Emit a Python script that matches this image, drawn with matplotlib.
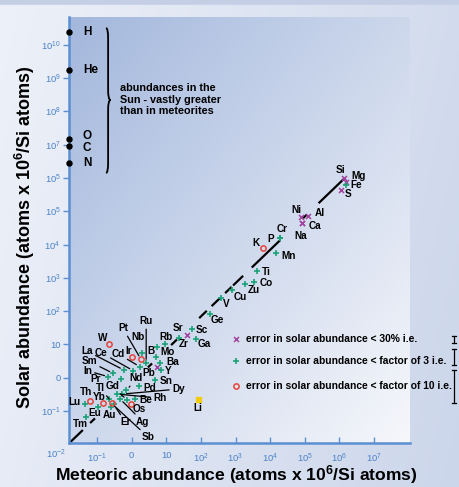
import numpy as np
import matplotlib.pyplot as plt
from matplotlib.path import Path
from matplotlib.patches import PathPatch

plt.rcParams['font.family'] = ['Liberation Sans', 'DejaVu Sans']
plt.rcParams['mathtext.default'] = 'regular'

# log10 abundances (atoms per 10^6 Si atoms)
elements = ['Si', 'Mg', 'Fe', 'S', 'Ni', 'Al', 'Ca', 'Na', 'Cr', 'P', 'K', 'Mn',
            'Ti', 'Co', 'Zu', 'Cu', 'V', 'Ge', 'Sc', 'Sr', 'Ga', 'Zr', 'Rb', 'Mo',
            'B', 'Ba', 'Y', 'Pb', 'Sn', 'Ru', 'Pt', 'Nb', 'W', 'Ir', 'Cd', 'Ce',
            'La', 'Sm', 'In', 'Pr', 'Nd', 'Gd', 'Pd', 'Dy', 'Rh', 'Be', 'Os', 'Ag',
            'Sb', 'Er', 'Au', 'Tl', 'Eu', 'Yb', 'Lu', 'Th', 'Tm', 'Li']
meteoric = [6.14, 6.20, 6.20, 6.05, 4.89, 5.09, 4.92, 4.92, 4.28, 4.28, 3.78, 4.18,
            3.62, 3.54, 3.27, 2.91, 2.58, 2.25, 1.75, 1.60, 1.87, 1.36, 0.96, 0.74,
            0.70, 0.83, 0.84, 0.72, 0.68, 0.42, 0.27, 0.29, -0.65, 0.02, 0.24, 0.05,
            -0.22, -0.53, -0.67, -0.31, -0.15, -0.13, 0.21, -0.27, -0.43, 0.10, -0.01, -0.34,
            -0.58, -0.52, -0.60, -0.65, -0.98, -0.83, -1.35, -1.21, -1.32, 1.92]
solar = [6.00, 5.88, 5.79, 5.64, 4.84, 4.86, 4.65, 4.65, 4.20, 4.20, 3.89, 3.75,
         3.20, 2.88, 2.81, 2.63, 2.39, 1.91, 1.47, 1.27, 1.17, 1.20, 1.01, 0.91,
         0.63, 0.43, 0.23, 0.31, -0.07, 0.43, 0.55, 0.73, 1.00, 0.61, 0.33, 0.21,
         0.23, 0.13, 0.03, -0.05, -0.38, -0.67, -0.25, -0.49, -0.49, -0.63, -0.78, -0.63,
         -0.77, -0.80, -0.88, -0.64, -0.88, -0.77, -0.79, -0.69, -1.18, -0.65]
# x: <30 %, +: <factor 3, o: <factor 10, s: Li
error_class = ['x', 'x', '+', 'x', 'x', 'x', 'x', 'x', '+', '+', 'o', '+',
               '+', '+', '+', '+', '+', '+', '+', 'x', '+', '+', '+', '+',
               '+', '+', '+', 'x', '+', '+', 'o', '+', 'o', 'o', '+', '+',
               '+', '+', '+', '+', '+', '+', '+', '+', '+', '+', 'o', '+',
               'o', '+', '+', '+', '+', 'o', '+', 'o', '+', 's']

# elements far more abundant in the Sun (no meteoric value)
gas_elements = ['H', 'He', 'O', 'C', 'N']
gas_solar = [10.38, 9.24, 7.17, 6.96, 6.45]

x_ticks = [-1, 0, 1, 2, 3, 4, 5, 6, 7]
x_ticklabels = ['$10^{-1}$', '0', '10', '$10^{2}$', '$10^{3}$', '$10^{4}$',
                '$10^{5}$', '$10^{6}$', '$10^{7}$']
y_ticks = [-1, 0, 1, 2, 3, 4, 5, 6, 7, 8, 9, 10]
y_ticklabels = ['$10^{-1}$', '0', '10', '$10^{2}$', '$10^{3}$', '$10^{4}$',
                '$10^{5}$', '$10^{5}$', '$10^{7}$', '$10^{8}$', '$10^{9}$', '$10^{10}$']

legend_texts = ['error in solar abundance < 30% i.e.',
                'error in solar abundance < factor of 3 i.e.',
                'error in solar abundance < factor of 10 i.e.']

# label placement (pixel offsets from the point) and leader lines
label_off = {
    'Si': (-4, 8), 'Mg': (12, 6), 'Fe': (10, 0), 'S': (7, -4), 'Ni': (-5, 7),
    'Al': (12, 3), 'Ca': (13, -3), 'Na': (-1, -13), 'Cr': (2, 9), 'P': (-9, -1),
    'K': (-7, 5), 'Mn': (12, -3), 'Ti': (9, -1), 'Co': (12, -1), 'Zu': (9, -6),
    'Cu': (8, -7), 'V': (5, -6), 'Ge': (8, -6), 'Sc': (10, -1), 'Sr': (-9, 7),
    'Ga': (8, -5), 'Zr': (5, -6), 'Rb': (1, 7), 'Mo': (10, -5), 'B': (-5, 6),
    'Ba': (12, 1), 'Y': (7, -1), 'Pb': (-8, -6), 'Sn': (11, -1), 'Ru': (0, 42),
    'Pt': (-18, 31), 'Nb': (-4, 16), 'W': (-6, 6), 'Ir': (-4, 6), 'Cd': (-22, 13),
    'Ce': (-32, 18), 'La': (-37, 19), 'Sm': (-24, 12), 'In': (-21, 6), 'Pr': (-25, 0),
    'Nd': (10, 12), 'Gd': (-15, 14), 'Pd': (11, -2), 'Dy': (56, 5), 'Rh': (43, -4),
    'Be': (11, -1), 'Os': (8, -5), 'Ag': (23, -23), 'Sb': (37, -34), 'Er': (12, -18),
    'Au': (-1, -8), 'Tl': (-9, 11), 'Eu': (-3, -6), 'Yb': (-4, 6), 'Lu': (-10, 2),
    'Th': (-4, 9), 'Tm': (-6, -7), 'Li': (0, -9),
}
leaders = ['Ru', 'Pt', 'Cd', 'Ce', 'La', 'Sm', 'In', 'Nd', 'Gd', 'Dy', 'Rh',
           'Ag', 'Sb', 'Er', 'Tl']
gas_label_dy = {'H': 0, 'He': 0, 'O': 3, 'C': -2, 'N': 0}

# visible pieces of the equal-abundance line (gaps where labels sit)
line_start = [-1.81, -1.20, 0.47, 1.14, 1.95, 2.31, 2.70, 2.93, 3.47, 4.95, 5.40]
line_end = [-1.41, -1.06, 0.59, 1.31, 2.17, 2.55, 2.89, 3.22, 4.29, 5.06, 6.12]
line_offset = -0.16

styles = {
    'x': dict(marker='x', color='#a0449f', ms=3.6, mew=1.1, ls='none'),
    '+': dict(marker='+', color='#19a277', ms=4.8, mew=1.2, ls='none'),
    'o': dict(marker='o', mfc='none', mec='#e6433a', ms=3.8, mew=1.1, ls='none'),
    's': dict(marker='s', color='#f3cc10', ms=3.6, ls='none'),
}
spine_col = '#5b8fd2'
tick_col = '#4b82c6'

fig = plt.figure(figsize=(4.59, 4.87), dpi=100)

# figure background gradient
bg = fig.add_axes([0, 0, 1, 1], zorder=-10)
bg.axis('off')
u = np.linspace(0, 1, 300)[None, :]
v = np.linspace(0, 1, 300)[:, None]
c0 = np.array([0.93, 0.945, 0.975])
c1 = np.array([0.80, 0.84, 0.92])
t = np.clip(0.8 * u + 0.2 * v, 0, 1)[..., None]
img = c0 * (1 - t) + c1 * t
img[:3] = [0.77, 0.815, 0.905]
bg.imshow(img, aspect='auto', extent=[0, 1, 0, 1])
bg.set_xlim(0, 1)
bg.set_ylim(0, 1)

ax = fig.add_axes([0.1503, 0.0903, 0.7429, 0.8747])
xmin, xmax, ymin, ymax = -1.81, 8.04, -1.96, 10.83
a0 = np.array([0.64, 0.72, 0.865])
a1 = np.array([0.965, 0.97, 0.985])
ta = np.clip((u + v) / 2, 0, 1)[..., None]
ax.imshow(a0 * (1 - ta) + a1 * ta, aspect='auto', extent=[xmin, xmax, ymin, ymax], zorder=0)
ax.set_xlim(xmin, xmax)
ax.set_ylim(ymin, ymax)

for s in ['top', 'right']:
    ax.spines[s].set_visible(False)
for s in ['left', 'bottom']:
    ax.spines[s].set_color(spine_col)
    ax.spines[s].set_linewidth(1.8)

ax.set_xticks(x_ticks)
ax.set_xticklabels(x_ticklabels)
ax.set_yticks(y_ticks)
ax.set_yticklabels(y_ticklabels)
ax.tick_params(axis='x', direction='in', length=4, width=1, color=spine_col,
               labelcolor=tick_col, labelsize=6.8, pad=6)
ax.tick_params(axis='y', direction='out', length=4, width=1, color=spine_col,
               labelcolor=tick_col, labelsize=6.8, pad=2)
ax.text(-2.19, -0.026, '$10^{-2}$', transform=ax.get_xaxis_transform(),
        ha='center', va='center', fontsize=6.8, color=tick_col, clip_on=False)

# equal-abundance line
for a, b in zip(line_start, line_end):
    ax.plot([a, b], [a + line_offset, b + line_offset], color='black', lw=1.6,
            solid_capstyle='butt', zorder=2)

met = np.array(meteoric)
sol = np.array(solar)
cls = np.array(error_class)
for k, st in styles.items():
    m = cls == k
    ax.plot(met[m], sol[m], zorder=4, clip_on=False, **st)

for name, mx, sy in zip(elements, meteoric, solar):
    dx, dy = label_off[name]
    arrow = None
    if name in leaders:
        arrow = dict(arrowstyle='-', lw=0.9, color='black', shrinkA=0, shrinkB=3)
    ax.annotate(name, (mx, sy), xytext=(dx, dy), textcoords='offset pixels',
                ha='center', va='center', fontsize=7.2, fontweight='bold',
                arrowprops=arrow, zorder=5)

# H, He, O, C, N on the y axis
ax.plot([xmin] * len(gas_solar), gas_solar, 'o', color='black', ms=3.6,
        clip_on=False, zorder=6)
for name, sy in zip(gas_elements, gas_solar):
    ax.annotate(name, (xmin, sy), xytext=(14, gas_label_dy[name]),
                textcoords='offset pixels', ha='left', va='center',
                fontsize=8.5, fontweight='bold')

# curly brace and note
xe, xs, xt = -0.74, -0.68, -0.61
top, bot, mid, h = 10.50, 6.15, 8.34, 0.3
verts = [(xe, top), (xs, top), (xs, top - h), (xs, mid + h), (xs, mid), (xt, mid),
         (xs, mid), (xs, mid - h), (xs, bot + h), (xs, bot), (xe, bot)]
codes = [Path.MOVETO, Path.CURVE3, Path.CURVE3, Path.LINETO, Path.CURVE3, Path.CURVE3,
         Path.CURVE3, Path.CURVE3, Path.LINETO, Path.CURVE3, Path.CURVE3]
ax.add_patch(PathPatch(Path(verts, codes), fill=False, lw=1.3, color='black', zorder=5))
ax.text(-0.34, 8.35, 'abundances in the\nSun - vastly greater\nthan in meteorites',
        ha='left', va='center', fontsize=7.8, fontweight='bold', linespacing=1.15)

# legend
leg_y = [0.244, 0.193, 0.134]
for k, ly, txt in zip(['x', '+', 'o'], leg_y, legend_texts):
    ax.plot([0.491], [ly], transform=ax.transAxes, clip_on=False, **styles[k])
    ax.text(0.519, ly, txt, transform=ax.transAxes, ha='left', va='center',
            fontsize=7.4, fontweight='bold', clip_on=False)

# error size brackets at the right edge
bx = 454 / 459
for y0, y1 in [(0.310, 0.296), (0.283, 0.250), (0.240, 0.172)]:
    fig.add_artist(plt.Line2D([bx, bx], [y0, y1], color='black', lw=0.9))
    for yy in (y0, y1):
        fig.add_artist(plt.Line2D([bx - 0.005, bx + 0.005], [yy, yy], color='black', lw=0.9))

fig.text(0.054, 0.513, 'Solar abundance (atoms x 10$^{6}$/Si atoms)', rotation=90,
         ha='center', va='center', fontsize=13, fontweight='bold')
fig.text(0.515, 0.025, 'Meteoric abundance (atoms x 10$^{6}$/Si atoms)',
         ha='center', va='center', fontsize=12.6, fontweight='bold')

fig.savefig('out.png', dpi=100)
